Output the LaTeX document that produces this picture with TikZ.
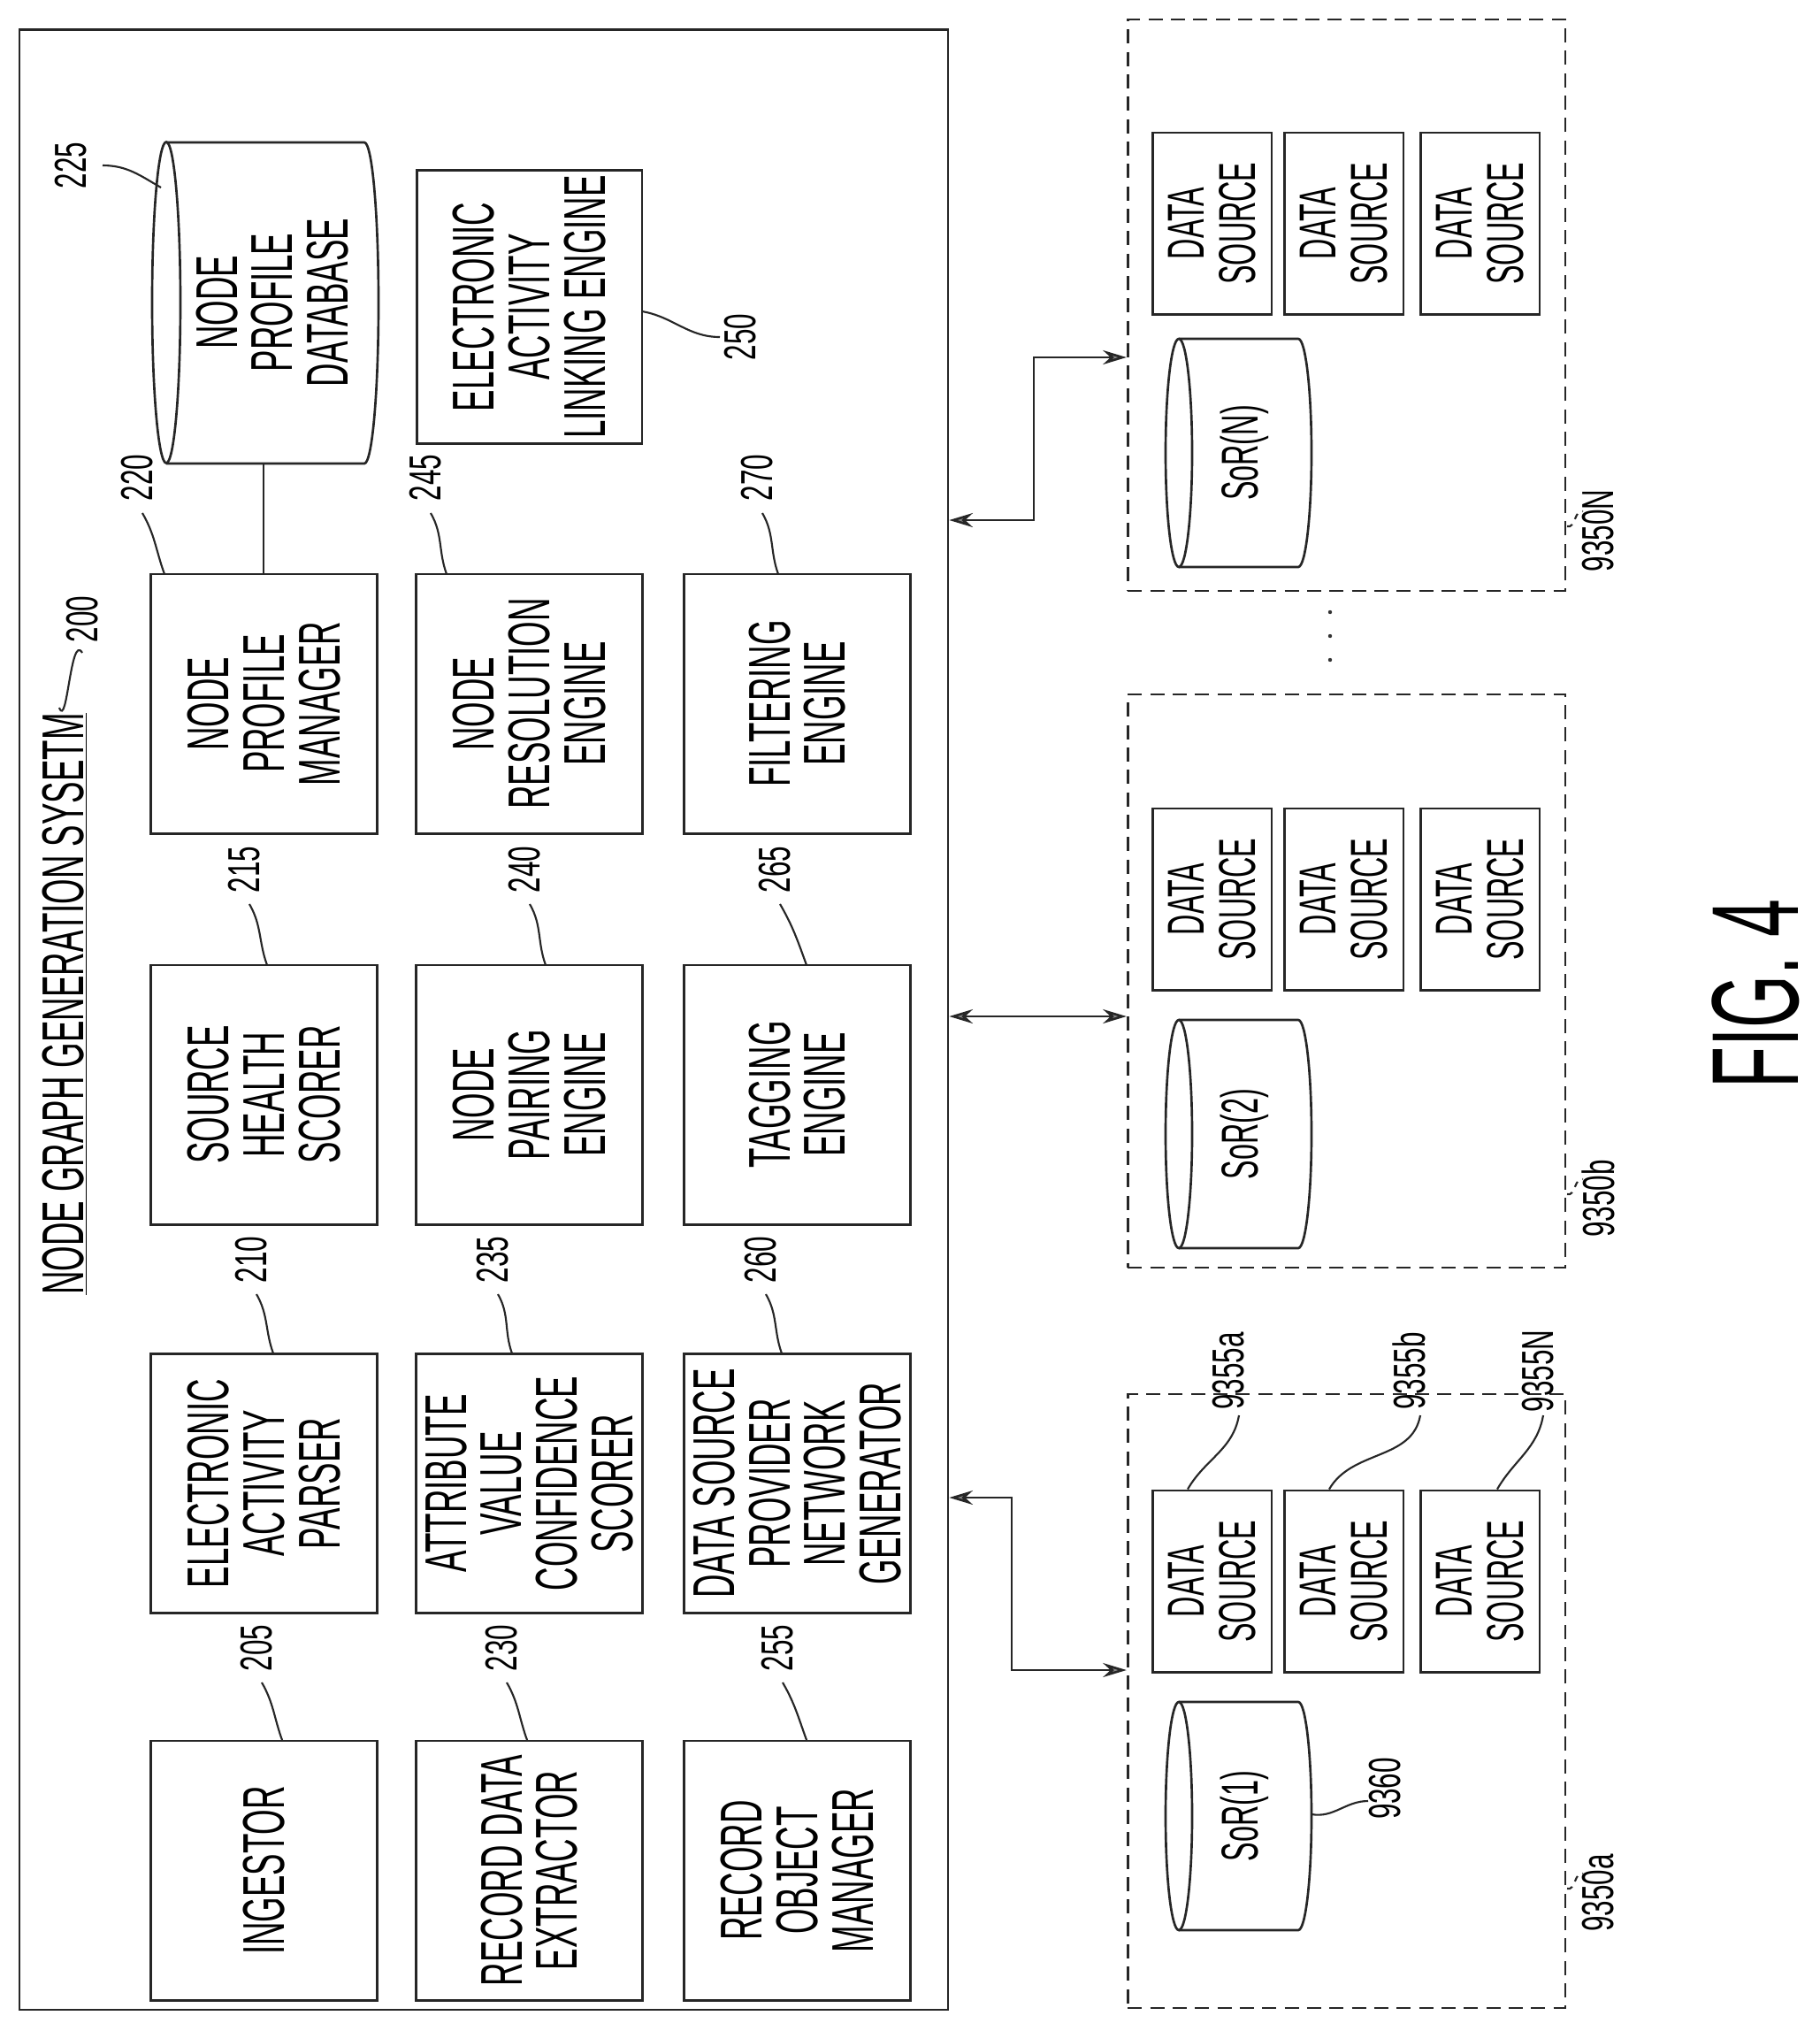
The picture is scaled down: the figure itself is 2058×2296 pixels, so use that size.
\documentclass[tikz,border=0pt]{standalone}
\usepackage{fontspec}
\setmainfont{Liberation Sans}[FakeStretch=0.55]
\newfontfamily\labfont{Liberation Sans}[FakeStretch=0.62]
\usetikzlibrary{arrows.meta,calc}
\begin{document}
\begin{tikzpicture}[x=0.75pt,y=-0.75pt,
  ln/.style={line width=2pt,draw=black!85},
  box/.style={ln,draw,rotate=90,minimum width=220pt,minimum height=192pt,align=center,inner sep=0pt,font=\fontsize{50}{47}\selectfont},
  ds/.style={ln,draw,rotate=90,minimum width=154pt,minimum height=101pt,align=center,inner sep=0pt,font=\fontsize{44}{44}\selectfont},
  grp/.style={draw=black!85,line width=2pt,dash pattern=on 12pt off 7pt,minimum width=371pt,inner sep=0pt},
  lab/.style={rotate=90,inner sep=0pt,font=\labfont\fontsize{38}{38}\selectfont},
  lead/.style={line width=1.6pt,draw=black!85},
  bi/.style={line width=2pt,draw=black!85,{Stealth[length=20pt,width=12pt,fill=black!45]}-{Stealth[length=20pt,width=12pt,fill=black!45]}}]
\useasboundingbox (0,0) rectangle (2058,2296);
% outer system box
\node[ln,draw,minimum width=787.5pt,minimum height=1679pt,inner sep=0] (sys) at (547,1152.5) {};
\node[rotate=90,inner sep=0,font=\fontsize{50}{50}\selectfont] (title) at (73,1135) {\underline{NODE GRAPH GENERATION SYSETM}};
\node[lab] (l200) at (93,700) {200};
\draw[lead] (67,800) to[out=-70,in=120] (93,738);
% database
\draw[ln] (188,342) ellipse [x radius=16, y radius=181.5];
\draw[ln] (188,161) -- (412,161) arc[start angle=-90,end angle=90,x radius=16,y radius=181.5] -- (188,524);
\coordinate (db) at (298,524);
\node[rotate=90,align=center,inner sep=0,font=\fontsize{50}{47}\selectfont] (dbt) at (308,342) {NODE\\PROFILE\\DATABASE};
\node[lab] (l225) at (80,187) {225};
\draw[lead] (116,187) to[out=0,in=150] (182,212);
% linking engine
\node[box,minimum width=232pt,minimum height=191pt] (b250) at (598.5,347) {ELECTRONIC\\ACTIVITY\\LINKING ENGINE};
\node[lab] (l250) at (837,381) {250};
\draw[lead] (726,352) to[out=-10,in=180] (814,381);
% row 1
\node[box] (b220) at (298.5,795.5) {NODE\\PROFILE\\MANAGER};
\node[box] (b245) at (598.5,795.5) {NODE\\RESOLUTION\\ENGINE};
\node[box] (b270) at (901.5,795.5) {FILTERING\\ENGINE};
% row 2
\node[box] (b215) at (298.5,1237.5) {SOURCE\\HEALTH\\SCORER};
\node[box] (b240) at (598.5,1237.5) {NODE\\PAIRING\\ENGINE};
\node[box] (b265) at (901.5,1237.5) {TAGGING\\ENGINE};
% row 3
\node[box] (b210) at (298.5,1677) {ELECTRONIC\\ACTIVITY\\PARSER};
\node[box] (b235) at (598.5,1677) {ATTRIBUTE\\VALUE\\CONFIDENCE\\SCORER};
\node[box] (b260) at (901.5,1677) {DATA SOURCE\\PROVIDER\\NETWORK\\GENERATOR};
% row 4
\node[box] (b205) at (298.5,2114.5) {INGESTOR};
\node[box] (b230) at (598.5,2114.5) {RECORD DATA\\EXTRACTOR};
\node[box] (b255) at (901.5,2114.5) {RECORD\\OBJECT\\MANAGER};
\draw[ln] (db) -- (b220.east -| db);
% labels
\foreach \n/\lx/\ly/\ex in {220/155/540/186,245/481/540/505,270/856/540/880}{
  \node[lab] (l\n) at (\lx,\ly) {\n};
  \draw[lead] (\lx+6,580) to[out=-60,in=110] (\ex,649);}
\foreach \n/\lx/\ex in {215/276/302,240/593/617,265/876/912}{
  \node[lab] (l\n) at (\lx,983) {\n};
  \draw[lead] (\lx+6,1022) to[out=-60,in=110] (\ex,1091);}
\foreach \n/\lx/\ex in {210/284/309,235/557/579,260/860/884}{
  \node[lab] (l\n) at (\lx,1424) {\n};
  \draw[lead] (\lx+6,1463) to[out=-60,in=110] (\ex,1530);}
\foreach \n/\lx/\ex in {205/290/319,230/567/596,255/879/912}{
  \node[lab] (l\n) at (\lx,1863) {\n};
  \draw[lead] (\lx+6,1902) to[out=-60,in=110] (\ex,1967);}
% groups
\node[grp,minimum height=484.5pt] (gN) at (1522.5,345) {};
\node[grp,minimum height=486pt] (gb) at (1522.5,1109) {};
\node[grp,minimum height=520.5pt] (ga) at (1522.5,1923) {};
% cylinders
\foreach \y/\t in {383/N,1153/2,1924/1}{
  \draw[ln] (1333,\y+129) ellipse [x radius=15, y radius=129];
  \draw[ln] (1333,\y) -- (1468,\y) arc[start angle=-90,end angle=90,x radius=15,y radius=129] -- (1333,\y+258);
}
\node[rotate=90,font=\fontsize{44}{44}\selectfont] (sN) at (1407,512) {SoR(N)};
\node[rotate=90,font=\fontsize{44}{44}\selectfont] (s2) at (1407,1282) {SoR(2)};
\node[rotate=90,font=\fontsize{44}{44}\selectfont] (s1) at (1407,2053) {SoR(1)};
% data sources
\foreach \g/\y in {N/252.5,b/1016.5,a/1787.5}{
  \node[ds] (d\g1) at (1370.5,\y) {DATA\\SOURCE};
  \node[ds] (d\g2) at (1519.5,\y) {DATA\\SOURCE};
  \node[ds] (d\g3) at (1673.5,\y) {DATA\\SOURCE};}
% arrows
\coordinate (tN) at (0,404); \coordinate (tb) at (0,1149); \coordinate (ta) at (0,1888);
\draw[bi] (sys.east |- 0,588) -- (1169,588) |- (gN.west |- tN);
\draw[bi] (sys.east |- tb) -- (gb.west |- tb);
\draw[bi] (sys.east |- 0,1693) -- (1144,1693) |- (ga.west |- ta);
% dots
\foreach \y in {692,719,746} \fill[black!80] (1504,\y) circle (2.2);
% group labels
\foreach \g/\t/\y in {N/9350N/600,b/9350b/1355,a/9350a/2140}{
  \node[lab] (lg\g) at (1807,\y) {\t};
  \draw[lead,dash pattern=on 5pt off 5pt] (1772,\y-5) to[out=-20,in=160] (1790,\y-22);}
% data source labels
\node[lab] (l55a) at (1389,1550) {9355a};
\draw[lead] (1401,1600) to[out=-100,in=60] (da1.east -| 1343,0);
\node[lab] (l55b) at (1593,1550) {9355b};
\draw[lead] (1606,1600) to[out=-100,in=60] (da2.east -| 1503,0);
\node[lab] (l55N) at (1739,1550) {9355N};
\draw[lead] (1745,1600) to[out=-100,in=60] (da3.east -| 1693,0);
\node[lab] (l60) at (1566,2022) {9360};
\draw[lead] (1483,2051) to[out=-10,in=180] (1547,2036);
% figure label
\node[rotate=90,font=\fontsize{105}{105}\selectfont] (fig) at (1985,1124) {FIG. 4};
\end{tikzpicture}
\end{document}
